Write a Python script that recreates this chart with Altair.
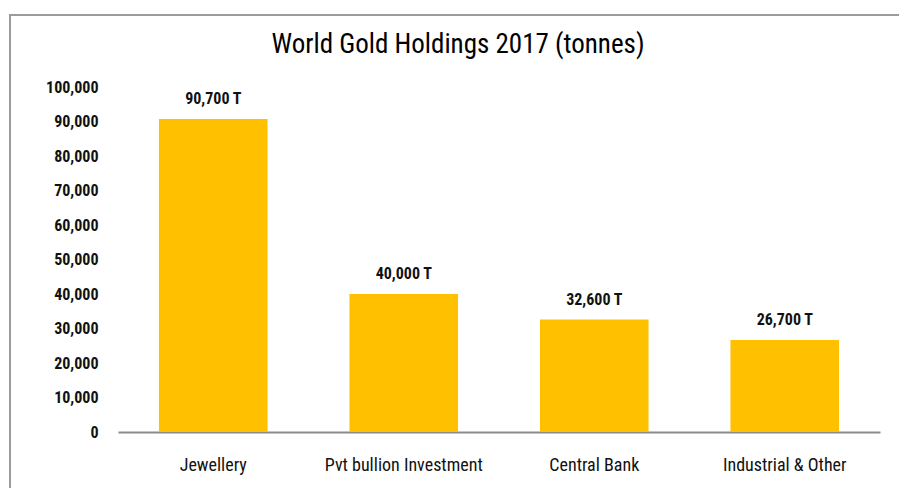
import altair as alt
import pandas as pd

categories = ["Jewellery", "Pvt bullion Investment", "Central Bank", "Industrial & Other"]
values = [90700, 40000, 32600, 26700]
labels = ["90,700 T", "40,000 T", "32,600 T", "26,700 T"]
title_text = "World Gold Holdings 2017 (tonnes)"

df = pd.DataFrame({"category": categories, "value": values, "label": labels})

FONT = "Liberation Sans Narrow, Roboto Condensed, DejaVu Sans Condensed, sans-serif"

base = alt.Chart(df).encode(
    x=alt.X("category:N", sort=categories, title=None,
            scale=alt.Scale(paddingInner=0.43, paddingOuter=0.215),
            axis=alt.Axis(labelAngle=0, ticks=False, domainColor="#8c8c8c", domainWidth=2,
                          labelFont=FONT, labelFontSize=18, labelColor="#111111",
                          labelPadding=24, grid=False)),
    y=alt.Y("value:Q", title=None,
            scale=alt.Scale(domain=[0, 100000], nice=False),
            axis=alt.Axis(values=list(range(0, 100001, 10000)), format=",d",
                          domain=False, ticks=False, grid=False, labelPadding=20,
                          labelFont=FONT, labelFontSize=16, labelFontWeight="bold",
                          labelColor="#111111")),
)

bars = base.mark_bar(color="#FFC000")
text = base.mark_text(baseline="bottom", dy=-12, font=FONT, fontSize=16,
                      fontWeight="bold", color="#111111").encode(text="label:N")

frame = alt.Chart(df).mark_rect(fill=None, stroke="#9a9a9a", strokeWidth=1.5, clip=False).encode(
    x=alt.value(-108), x2=alt.value(787), y=alt.value(-72), y2=alt.value(430)
)

title = alt.Chart(pd.DataFrame({"t": [title_text]})).mark_text(
    font=FONT, fontSize=27, color="#000000", align="center", baseline="middle", clip=False
).encode(text="t:N", x=alt.value(340), y=alt.value(-42))

chart = alt.layer(frame, bars, text, title).properties(
    width=762, height=345,
    autosize=alt.AutoSizeParams(type="none"),
    padding={"left": 110, "top": 79, "right": 19, "bottom": 56},
).configure_view(stroke=None)

chart.save("out.html", embed_options={"renderer": "svg", "actions": False})
